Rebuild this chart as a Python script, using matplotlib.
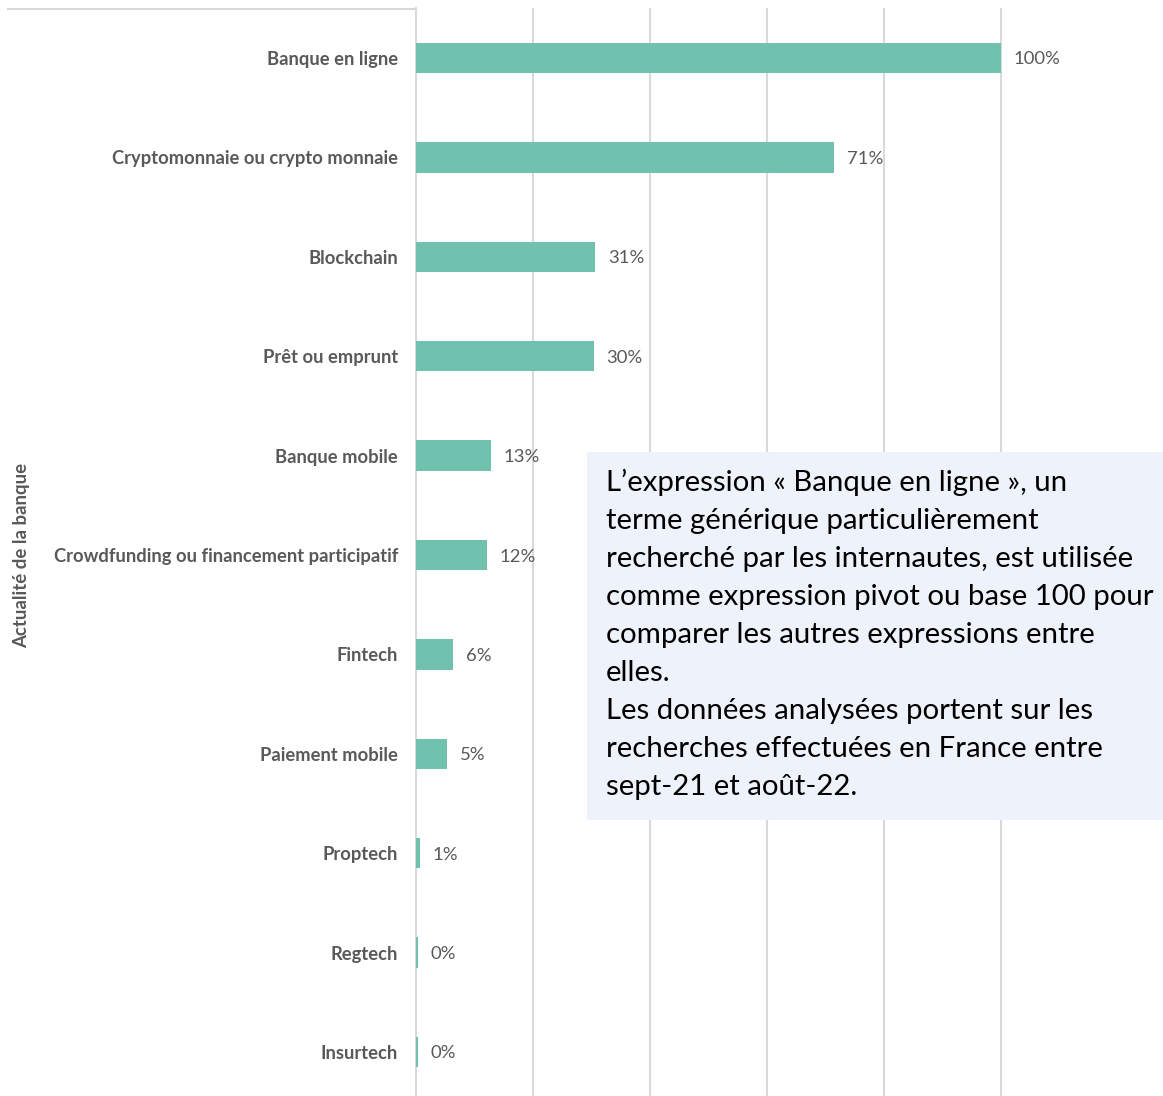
import matplotlib
matplotlib.use('Agg')
import matplotlib.pyplot as plt
from matplotlib.lines import Line2D
from matplotlib.patches import Rectangle

# search interest relative to "Banque en ligne" (base 100)
categories = ['Banque en ligne', 'Cryptomonnaie ou crypto monnaie', 'Blockchain',
              'Prêt ou emprunt', 'Banque mobile', 'Crowdfunding ou financement participatif',
              'Fintech', 'Paiement mobile', 'Proptech', 'Regtech', 'Insurtech']
shares = [1.00, 0.714, 0.306, 0.304, 0.128, 0.121, 0.063, 0.053, 0.007, 0.003, 0.003]
grid_ticks = [0.2, 0.4, 0.6, 0.8, 1.0]
axis_title = 'Actualité de la banque'
note = ("L’expression « Banque en ligne », un\n"
        "terme générique particulièrement\n"
        "recherché par les internautes, est utilisée\n"
        "comme expression pivot ou base 100 pour\n"
        "comparer les autres expressions entre\n"
        "elles.\n"
        "Les données analysées portent sur les\n"
        "recherches effectuées en France entre\n"
        "sept-21 et août-22.")

W, H = 1163, 1096
BAR = '#70c1ae'
GRID = '#d9d9d9'
GREY = '#595959'
FONT = ['Lato', 'DejaVu Sans']

fig = plt.figure(figsize=(W / 100, H / 100), dpi=100)
x0, x1 = 416, 1163
y_top, y_bot = 8.3, 1101.7
ax = fig.add_axes([x0 / W, (H - y_bot) / H, (x1 - x0) / W, (y_bot - y_top) / H])
ax.set_xlim(0, (x1 - x0) / 585)
ax.set_ylim(len(categories) - 0.5, -0.5)

ypos = list(range(len(categories)))
ax.barh(ypos, shares, height=0.305, color=BAR, zorder=3)
for y, v in zip(ypos, shares):
    ax.text(v + 0.022, y, f'{v:.0%}', va='center_baseline', ha='left', fontsize=13.3,
            color=GREY, family=FONT)

ax.set_xticks(grid_ticks)
ax.tick_params(axis='x', length=0, labelbottom=False)
ax.grid(axis='x', color=GRID, lw=1.5, zorder=0)
ax.set_yticks(ypos)
ax.set_yticklabels(categories, fontsize=13.2, color=GREY, family=FONT,
                   fontweight='bold')
ax.tick_params(axis='y', length=0, pad=13)
for s in ('top', 'right', 'bottom'):
    ax.spines[s].set_visible(False)
ax.spines['left'].set_color(GRID)
ax.spines['left'].set_linewidth(1.5)

# frame line along the top of the label area
fig.add_artist(Line2D([8 / W, x0 / W], [1 - 9 / H, 1 - 9 / H], color=GRID, lw=1.5))

fig.text(22 / W, 1 - 555 / H, axis_title, rotation=90, ha='center', va='center',
         fontsize=13.4, color=GREY, family=FONT, fontweight='bold')

# explanatory note box
bx0, by0, bx1, by1 = 587, 452, 1163, 820
fig.add_artist(Rectangle((bx0 / W, 1 - by1 / H), (bx1 - bx0) / W, (by1 - by0) / H,
                         transform=fig.transFigure, facecolor='#eef2fa',
                         edgecolor='none', zorder=5))
fig.text(606 / W, 1 - 469 / H, note, ha='left', va='top', fontsize=21.2,
         linespacing=1.57, color='black', family=FONT, zorder=6)

fig.savefig('out.png', dpi=100)
